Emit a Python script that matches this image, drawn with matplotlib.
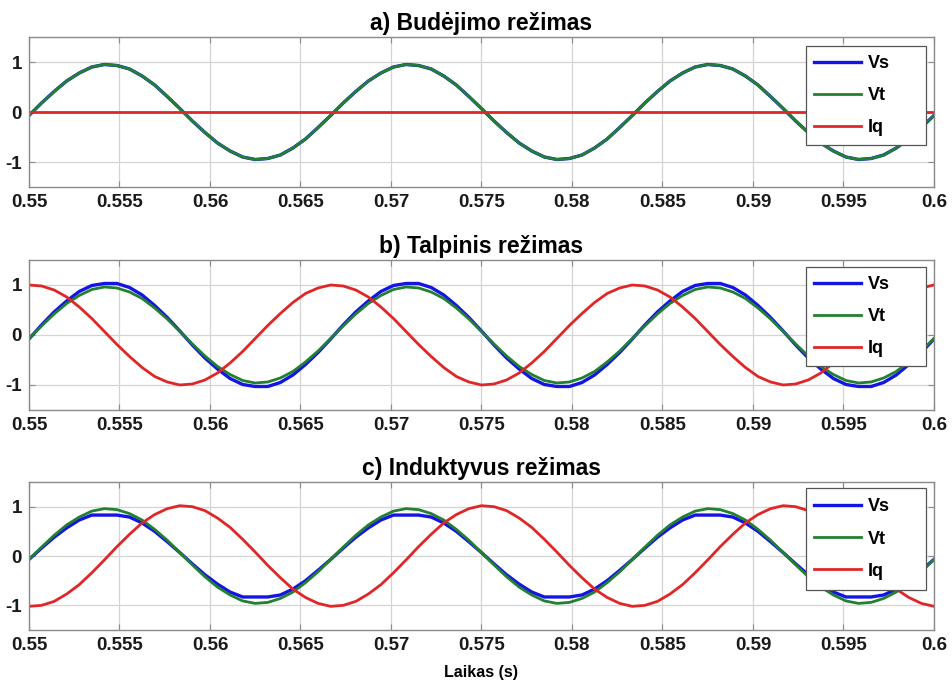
import numpy as np
import matplotlib
matplotlib.use('Agg')
import matplotlib.pyplot as plt
from matplotlib.patches import Rectangle

plt.rcParams['font.family'] = ['Liberation Sans', 'DejaVu Sans']
plt.rcParams['font.weight'] = 'bold'
plt.rcParams['axes.unicode_minus'] = False

# laiko asis: 73 taskai per 0.55 .. 0.6 s (3 periodai, 24 taskai periodui)
t = np.linspace(0.55, 0.6, 73)

# a) Budejimo rezimas
vt_a = [-0.07, 0.18, 0.41, 0.62, 0.78, 0.90, 0.95, 0.93, 0.86, 0.72, 0.54, 0.31,
        0.07, -0.18, -0.41, -0.62, -0.78, -0.90, -0.95, -0.93, -0.86, -0.72, -0.54, -0.31,
        -0.07, 0.18, 0.41, 0.62, 0.78, 0.90, 0.95, 0.93, 0.86, 0.72, 0.54, 0.31,
        0.07, -0.18, -0.41, -0.62, -0.78, -0.90, -0.95, -0.93, -0.86, -0.72, -0.54, -0.31,
        -0.07, 0.18, 0.41, 0.62, 0.78, 0.90, 0.95, 0.93, 0.86, 0.72, 0.54, 0.31,
        0.07, -0.18, -0.41, -0.62, -0.78, -0.90, -0.95, -0.93, -0.86, -0.72, -0.54, -0.31,
        -0.07]
vs_a = vt_a  # Vs sutampa su Vt
t_iq_a = [0.55, 0.6]
iq_a = [0.0, 0.0]

# b) Talpinis rezimas
vs_b = [-0.08, 0.20, 0.46, 0.68, 0.87, 0.99, 1.03, 1.03, 0.95, 0.80, 0.59, 0.35,
        0.08, -0.20, -0.46, -0.68, -0.87, -0.99, -1.03, -1.03, -0.95, -0.80, -0.59, -0.35,
        -0.08, 0.20, 0.46, 0.68, 0.87, 0.99, 1.03, 1.03, 0.95, 0.80, 0.59, 0.35,
        0.08, -0.20, -0.46, -0.68, -0.87, -0.99, -1.03, -1.03, -0.95, -0.80, -0.59, -0.35,
        -0.08, 0.20, 0.46, 0.68, 0.87, 0.99, 1.03, 1.03, 0.95, 0.80, 0.59, 0.35,
        0.08, -0.20, -0.46, -0.68, -0.87, -0.99, -1.03, -1.03, -0.95, -0.80, -0.59, -0.35,
        -0.08]
vt_b = [-0.07, 0.18, 0.42, 0.63, 0.79, 0.91, 0.96, 0.94, 0.86, 0.73, 0.54, 0.32,
        0.07, -0.18, -0.42, -0.63, -0.79, -0.91, -0.96, -0.94, -0.86, -0.73, -0.54, -0.32,
        -0.07, 0.18, 0.42, 0.63, 0.79, 0.91, 0.96, 0.94, 0.86, 0.73, 0.54, 0.32,
        0.07, -0.18, -0.42, -0.63, -0.79, -0.91, -0.96, -0.94, -0.86, -0.73, -0.54, -0.32,
        -0.07, 0.18, 0.42, 0.63, 0.79, 0.91, 0.96, 0.94, 0.86, 0.73, 0.54, 0.32,
        0.07, -0.18, -0.42, -0.63, -0.79, -0.91, -0.96, -0.94, -0.86, -0.73, -0.54, -0.32,
        -0.07]
iq_b = [1.00, 0.98, 0.90, 0.76, 0.56, 0.33, 0.07, -0.19, -0.43, -0.65, -0.83, -0.94,
        -1.00, -0.98, -0.90, -0.76, -0.56, -0.33, -0.07, 0.19, 0.43, 0.65, 0.83, 0.94,
        1.00, 0.98, 0.90, 0.76, 0.56, 0.33, 0.07, -0.19, -0.43, -0.65, -0.83, -0.94,
        -1.00, -0.98, -0.90, -0.76, -0.56, -0.33, -0.07, 0.19, 0.43, 0.65, 0.83, 0.94,
        1.00, 0.98, 0.90, 0.76, 0.56, 0.33, 0.07, -0.19, -0.43, -0.65, -0.83, -0.94,
        -1.00, -0.98, -0.90, -0.76, -0.56, -0.33, -0.07, 0.19, 0.43, 0.65, 0.83, 0.94,
        1.00]

# c) Induktyvus rezimas
vs_c = [-0.07, 0.16, 0.38, 0.57, 0.73, 0.83, 0.83, 0.83, 0.79, 0.67, 0.50, 0.29,
        0.07, -0.16, -0.38, -0.57, -0.73, -0.83, -0.83, -0.83, -0.79, -0.67, -0.50, -0.29,
        -0.07, 0.16, 0.38, 0.57, 0.73, 0.83, 0.83, 0.83, 0.79, 0.67, 0.50, 0.29,
        0.07, -0.16, -0.38, -0.57, -0.73, -0.83, -0.83, -0.83, -0.79, -0.67, -0.50, -0.29,
        -0.07, 0.16, 0.38, 0.57, 0.73, 0.83, 0.83, 0.83, 0.79, 0.67, 0.50, 0.29,
        0.07, -0.16, -0.38, -0.57, -0.73, -0.83, -0.83, -0.83, -0.79, -0.67, -0.50, -0.29,
        -0.07]
vt_c = [-0.07, 0.18, 0.42, 0.63, 0.79, 0.91, 0.96, 0.94, 0.86, 0.73, 0.54, 0.32,
        0.07, -0.18, -0.42, -0.63, -0.79, -0.91, -0.96, -0.94, -0.86, -0.73, -0.54, -0.32,
        -0.07, 0.18, 0.42, 0.63, 0.79, 0.91, 0.96, 0.94, 0.86, 0.73, 0.54, 0.32,
        0.07, -0.18, -0.42, -0.63, -0.79, -0.91, -0.96, -0.94, -0.86, -0.73, -0.54, -0.32,
        -0.07, 0.18, 0.42, 0.63, 0.79, 0.91, 0.96, 0.94, 0.86, 0.73, 0.54, 0.32,
        0.07, -0.18, -0.42, -0.63, -0.79, -0.91, -0.96, -0.94, -0.86, -0.73, -0.54, -0.32,
        -0.07]
iq_c = [-1.02, -1.00, -0.92, -0.77, -0.58, -0.34, -0.08, 0.19, 0.44, 0.67, 0.84, 0.96,
        1.02, 1.00, 0.92, 0.77, 0.58, 0.34, 0.08, -0.19, -0.44, -0.67, -0.84, -0.96,
        -1.02, -1.00, -0.92, -0.77, -0.58, -0.34, -0.08, 0.19, 0.44, 0.67, 0.84, 0.96,
        1.02, 1.00, 0.92, 0.77, 0.58, 0.34, 0.08, -0.19, -0.44, -0.67, -0.84, -0.96,
        -1.02, -1.00, -0.92, -0.77, -0.58, -0.34, -0.08, 0.19, 0.44, 0.67, 0.84, 0.96,
        1.02, 1.00, 0.92, 0.77, 0.58, 0.34, 0.08, -0.19, -0.44, -0.67, -0.84, -0.96,
        -1.02]

titles = ['a) Budėjimo režimas', 'b) Talpinis režimas', 'c) Induktyvus režimas']
xticks = [0.55, 0.555, 0.56, 0.565, 0.57, 0.575, 0.58, 0.585, 0.59, 0.595, 0.6]
xticklabels = ['0.55', '0.555', '0.56', '0.565', '0.57', '0.575', '0.58',
               '0.585', '0.59', '0.595', '0.6']
yticks = [-1, 0, 1]

panels = [
    (vs_a, vt_a, t_iq_a, iq_a),
    (vs_b, vt_b, t, iq_b),
    (vs_c, vt_c, t, iq_c),
]

fig = plt.figure(figsize=(9.53, 6.84), dpi=100)
# asiu vietos (left, bottom, width, height)
boxes = [
    [0.0304, 0.7266, 0.9496, 0.2193],
    [0.0304, 0.4006, 0.9496, 0.2193],
    [0.0304, 0.0789, 0.9496, 0.2164],
]
# legendos remelis (apacia, virsus) asies dalimis
leg_box = [(0.28, 0.94), (0.293, 0.953), (0.27, 0.959)]

for i, (vs, vt, tq, iq) in enumerate(panels):
    ax = fig.add_axes(boxes[i])
    ax.plot(t, vs, color='#1414e6', lw=2.4, label='Vs')
    ax.plot(t, vt, color='#228030', lw=2.0, label='Vt')
    ax.plot(tq, iq, color='#e02626', lw=2.0, label='Iq')

    ax.set_xlim(0.55, 0.6)
    ax.set_ylim(-1.5, 1.5)
    ax.set_xticks(xticks)
    ax.set_xticklabels(xticklabels)
    ax.set_yticks(yticks)
    ax.grid(True, color='#d4d4d4', lw=0.9, ls='-')
    ax.set_axisbelow(True)
    for s in ax.spines.values():
        s.set_color('#8a8a8a')
        s.set_linewidth(1.0)
    ax.tick_params(direction='in', top=True, right=True, length=4,
                   color='#8a8a8a', labelsize=13.5, labelcolor='#1a1a1a', pad=5)
    ax.set_title(titles[i], fontsize=16.5, fontweight='bold', pad=5)

    # MATLAB stiliaus legendos remelis
    y0, y1 = leg_box[i]
    ax.add_patch(Rectangle((0.859, y0), 0.132, y1 - y0, transform=ax.transAxes,
                           facecolor='white', edgecolor='#555555', lw=0.9,
                           zorder=5))
    leg = ax.legend(loc='center left', bbox_to_anchor=(0.868, (y0 + y1) / 2),
                    fontsize=13, frameon=False, handlelength=2.6,
                    labelspacing=0.84, borderpad=0, handletextpad=0.35,
                    borderaxespad=0)
    leg.set_zorder(6)
    for txt in leg.get_texts():
        txt.set_fontweight('bold')

    if i == 2:
        ax.set_xlabel('Laikas (s)', fontsize=11.5, fontweight='bold', labelpad=8)

fig.savefig('out.png', dpi=100)
